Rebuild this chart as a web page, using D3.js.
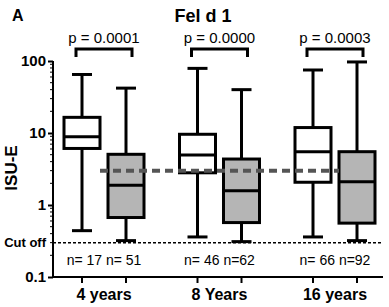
<!DOCTYPE html>
<html><head><meta charset="utf-8">
<script src="https://cdn.jsdelivr.net/npm/d3@7"></script>
<style>
html,body{margin:0;padding:0;background:#fff;}
text{font-family:"Liberation Sans",Arial,sans-serif;}
</style></head>
<body><svg id="c" width="389" height="307"></svg>
<script>
// ---- data ----
const groups = ["4 years", "8 Years", "16 years"];
const boxNames = ["early", "late"];
const whiskerLow  = [[0.44, 0.32], [0.36, 0.31], [0.36, 0.32]];
const q1          = [[6.1, 0.67], [2.8, 0.57], [2.07, 0.56]];
const median      = [[8.9, 1.88], [4.95, 1.58], [5.5, 2.1]];
const q3          = [[16.5, 5.06], [9.6, 4.35], [11.9, 5.5]];
const whiskerHigh = [[65, 42], [79, 40], [75, 97]];
const nLabels = ["n= 17 n= 51", "n= 46 n=62", "n= 66 n=92"];
const pLabels = ["p = 0.0001", "p = 0.0000", "p = 0.0003"];
const cutOff = 0.3;
const refLevel = 3.0;
const yTicks = [0.1, 1, 10, 100];
const yTickLabels = ["0.1", "1", "10", "100"];

// ---- layout ----
const svg = d3.select("#c");
const axisX = 53, axisRight = 383;
const y = d3.scaleLog().domain([0.1, 100]).range([277, 61]);
const xg = d3.scalePoint().domain(groups).range([104, 335]);
const xs = d3.scalePoint().domain(boxNames).range([-22, 22]);
const boxW = 36, capW = 20;
const fills = ["#ffffff", "#b5b5b5"];

// title
svg.append("text").attr("x", 12).attr("y", 21).attr("font-size", 16).attr("font-weight", "bold").text("A");
svg.append("text").attr("x", 203).attr("y", 22).attr("text-anchor", "middle").attr("font-size", 18).attr("font-weight", "bold").text("Fel d 1");

// y axis
const yAxis = d3.axisLeft(y).tickValues(yTicks).tickFormat((d, i) => yTickLabels[i]).tickSize(5).tickPadding(2);
const ga = svg.append("g").attr("transform", `translate(${axisX},0)`).call(yAxis);
ga.select(".domain").attr("stroke", "#000").attr("stroke-width", 2).attr("d", `M0,${y(100)}V${y(0.1)}`);
ga.selectAll(".tick line").attr("stroke-width", 2);
ga.selectAll(".tick text").attr("font-size", 15).attr("font-weight", "bold").attr("font-family", "Liberation Sans, Arial, sans-serif").attr("fill", "#000");
// minor ticks
const minor = [];
[0.1, 1, 10].forEach(d => { for (let k = 2; k <= 9; k++) minor.push(d * k); });
svg.append("g").selectAll("line").data(minor).join("line")
  .attr("x1", axisX - 3).attr("x2", axisX).attr("y1", d => y(d)).attr("y2", d => y(d))
  .attr("stroke", "#000").attr("stroke-width", 1);
// cut off label
svg.append("text").attr("x", axisX - 7).attr("y", y(cutOff) + 4.5).attr("text-anchor", "end")
  .attr("font-size", 13).attr("font-weight", "bold").text("Cut off");
// y label
svg.append("text").attr("transform", `translate(17,${168}) rotate(-90)`).attr("text-anchor", "middle")
  .attr("font-size", 17).attr("font-weight", "bold").text("ISU-E");

// x axis
svg.append("line").attr("x1", axisX - 1).attr("x2", axisRight).attr("y1", y(0.1)).attr("y2", y(0.1))
  .attr("stroke", "#000").attr("stroke-width", 2);
const boxes = [];
groups.forEach((g, gi) => boxNames.forEach((b, bi) => boxes.push({
  g, gi, bi, x: xg(g) + xs(b),
  lo: whiskerLow[gi][bi], q1: q1[gi][bi], med: median[gi][bi], q3: q3[gi][bi], hi: whiskerHigh[gi][bi]
})));
svg.append("g").selectAll("line").data(boxes).join("line")
  .attr("x1", d => d.x).attr("x2", d => d.x).attr("y1", y(0.1)).attr("y2", y(0.1) + 6)
  .attr("stroke", "#000").attr("stroke-width", 2);
svg.append("g").selectAll("text").data(groups).join("text")
  .attr("x", d => xg(d)).attr("y", 300).attr("text-anchor", "middle")
  .attr("font-size", 16).attr("font-weight", "bold").text(d => d);

// cut off dotted line
svg.append("line").attr("x1", axisX).attr("x2", axisRight).attr("y1", y(cutOff)).attr("y2", y(cutOff))
  .attr("stroke", "#000").attr("stroke-width", 1.5).attr("stroke-dasharray", "3,2");

// boxes
const bg = svg.append("g").selectAll("g").data(boxes).join("g");
bg.append("line").attr("x1", d => d.x).attr("x2", d => d.x).attr("y1", d => y(d.hi)).attr("y2", d => y(d.lo))
  .attr("stroke", "#000").attr("stroke-width", 3);
bg.append("line").attr("x1", d => d.x - capW / 2).attr("x2", d => d.x + capW / 2).attr("y1", d => y(d.hi)).attr("y2", d => y(d.hi))
  .attr("stroke", "#000").attr("stroke-width", 3);
bg.append("line").attr("x1", d => d.x - capW / 2).attr("x2", d => d.x + capW / 2).attr("y1", d => y(d.lo)).attr("y2", d => y(d.lo))
  .attr("stroke", "#000").attr("stroke-width", 3);
bg.append("rect").attr("x", d => d.x - boxW / 2).attr("width", boxW)
  .attr("y", d => y(d.q3)).attr("height", d => y(d.q1) - y(d.q3))
  .attr("fill", d => fills[d.bi]).attr("stroke", "#000").attr("stroke-width", 3);
bg.append("line").attr("x1", d => d.x - boxW / 2).attr("x2", d => d.x + boxW / 2).attr("y1", d => y(d.med)).attr("y2", d => y(d.med))
  .attr("stroke", "#000").attr("stroke-width", 3);

// reference dashed line
svg.append("line").attr("x1", xg(groups[0]) + xs("late") - boxW / 2 - 8).attr("x2", xg(groups[2]) + xs("late") - boxW / 2)
  .attr("y1", y(refLevel)).attr("y2", y(refLevel))
  .attr("stroke", "#555").attr("stroke-width", 4).attr("stroke-dasharray", "8,5");

// n labels
svg.append("g").selectAll("text").data(nLabels).join("text")
  .attr("x", (d, i) => xg(groups[i])).attr("y", 265).attr("text-anchor", "middle")
  .attr("font-size", 14).attr("xml:space", "preserve").text(d => d);

// p brackets
const pb = svg.append("g").selectAll("g").data(pLabels).join("g");
const bHalf = 28, bY = 49, bLeg = 8;
pb.append("path").attr("d", (d, i) => {
  const c = xg(groups[i]);
  return `M${c - bHalf},${bY + bLeg}V${bY}H${c + bHalf}V${bY + bLeg}`;
}).attr("fill", "none").attr("stroke", "#000").attr("stroke-width", 3);
pb.append("text").attr("x", (d, i) => xg(groups[i])).attr("y", 43).attr("text-anchor", "middle")
  .attr("font-size", 15).text(d => d);
</script></body></html>
